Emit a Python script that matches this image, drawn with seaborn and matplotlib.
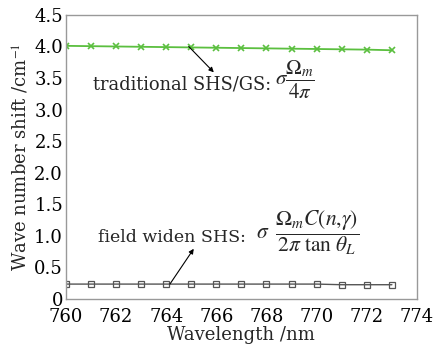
import numpy as np
import pandas as pd
import matplotlib
matplotlib.use('Agg')
import matplotlib.pyplot as plt
import seaborn as sns
from matplotlib.ticker import FuncFormatter

# data
wavelength = [760, 761, 762, 763, 764, 765, 766, 767, 768, 769, 770, 771, 772, 773]
traditional = [4.01, 4.005, 4.0, 3.995, 3.99, 3.985, 3.98, 3.975, 3.97, 3.965, 3.96, 3.955, 3.95, 3.94]
field_widen = [0.23, 0.23, 0.23, 0.23, 0.23, 0.23, 0.23, 0.23, 0.23, 0.23, 0.23, 0.22, 0.22, 0.22]

df = pd.DataFrame({'wl': wavelength, 'trad': traditional, 'fw': field_widen})

sns.set_style('white')
plt.rcParams['font.family'] = ['DejaVu Serif']
plt.rcParams['mathtext.fontset'] = 'stix'

fig, ax = plt.subplots(figsize=(4.33, 3.48), dpi=100)
fig.subplots_adjust(left=0.152, right=0.963, top=0.957, bottom=0.142)

sns.lineplot(data=df, x='wl', y='trad', ax=ax, color='#5bbf3f', lw=1.3,
             marker='x', markersize=4, markeredgewidth=1.2, markeredgecolor='#5bbf3f')
sns.lineplot(data=df, x='wl', y='fw', ax=ax, color='#555555', lw=1.0,
             marker='s', markersize=4, markerfacecolor='none',
             markeredgecolor='#555555', markeredgewidth=0.9)

ax.set_xlim(760, 774)
ax.set_ylim(0, 4.5)
ax.set_xticks(np.arange(760, 775, 2))
ax.set_yticks(np.arange(0, 4.6, 0.5))
ax.yaxis.set_major_formatter(FuncFormatter(lambda v, p: '0' if v == 0 else '%.1f' % v))
ax.tick_params(direction='in', length=3, labelsize=13, colors='#999999', labelcolor='black', pad=2)
ax.tick_params(axis='x', pad=7)
ax.tick_params(axis='y', length=0)
for s in ax.spines.values():
    s.set_color('#999999')
    s.set_linewidth(1.0)

ax.set_xlabel('Wavelength /nm', fontsize=13, labelpad=0)
ax.set_ylabel('Wave number shift /cm$^{-1}$', fontsize=13, labelpad=2)

arrow = dict(arrowstyle='-|>', color='black', lw=0.8, mutation_scale=7, shrinkA=0, shrinkB=0)
ax.annotate('', xy=(765.9, 3.59), xytext=(764.9, 4.0), arrowprops=arrow)
ax.annotate('', xy=(765.1, 0.79), xytext=(764.15, 0.23), arrowprops=arrow)

# labels: words and formulas as separate texts so the formulas can be bigger
ax.text(761.1, 3.32, 'traditional SHS/GS:', fontsize=12.9, va='baseline', ha='left')
ax.text(768.35, 3.38, r'$\sigma\dfrac{\Omega_m}{4\pi}$', fontsize=15, va='baseline', ha='left')
ax.text(761.3, 0.89, 'field widen SHS:', fontsize=12.5, va='baseline', ha='left')
ax.text(767.6, 0.95, r'$\sigma\;\;\dfrac{\Omega_m C(n{,}\gamma)}{2\pi\ \tan\,\theta_L}$',
        fontsize=15.5, va='baseline', ha='left')

fig.savefig('out.png', dpi=100)
